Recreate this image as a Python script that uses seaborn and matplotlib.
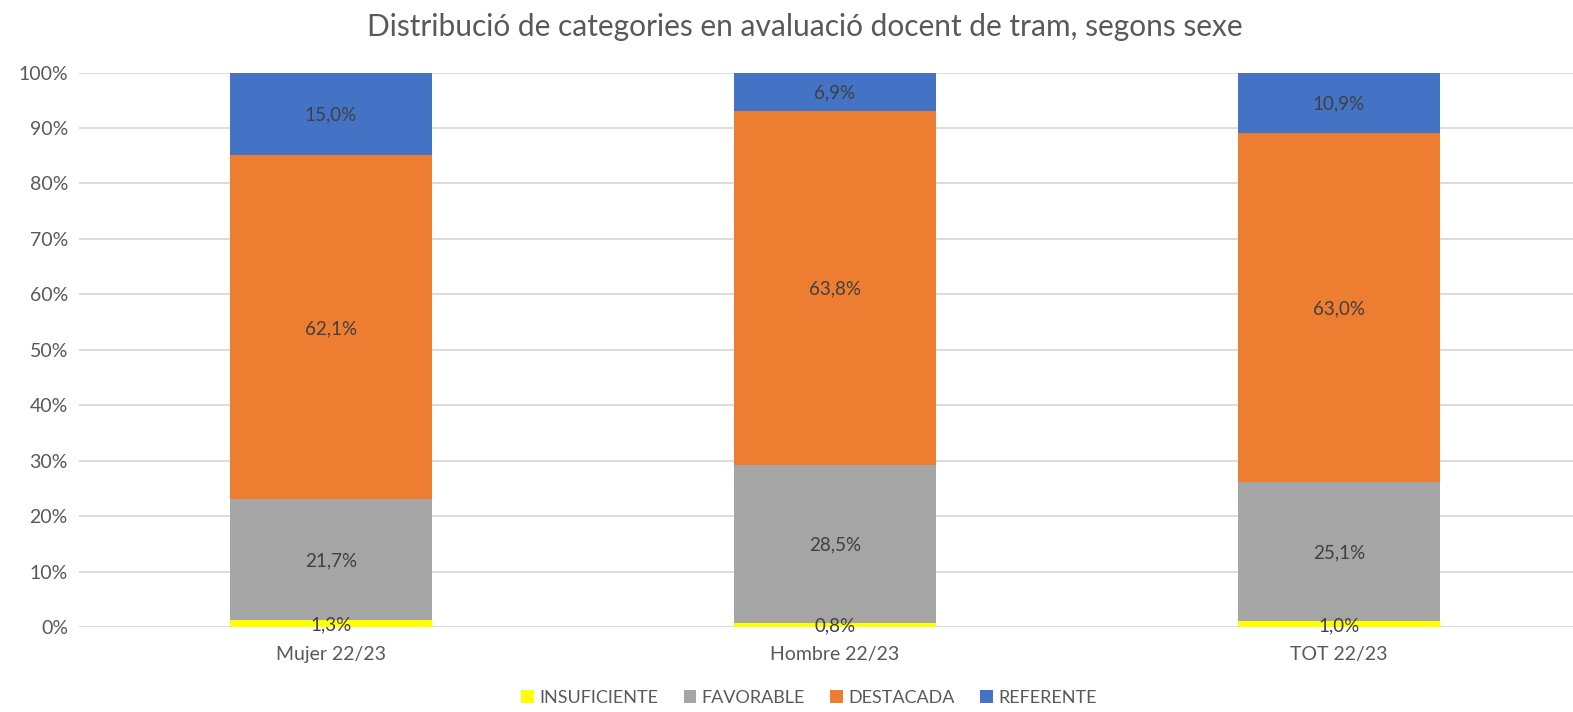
import numpy as np
import matplotlib
matplotlib.use("Agg")
import matplotlib.pyplot as plt
import seaborn as sns
from matplotlib.ticker import PercentFormatter

categories = ["Mujer 22/23", "Hombre 22/23", "TOT 22/23"]
series_names = ["INSUFICIENTE", "FAVORABLE", "DESTACADA", "REFERENTE"]
insuficiente = [1.3, 0.8, 1.0]
favorable = [21.7, 28.5, 25.1]
destacada = [62.1, 63.8, 63.0]
referente = [15.0, 6.9, 10.9]
colors = ["#FFFF00", "#A5A5A5", "#ED7D31", "#4472C4"]

sns.set_theme(style="white")
plt.rcParams['font.family'] = ['Lato', 'DejaVu Sans']

fig = plt.figure(figsize=(15.73, 7.12), dpi=100)
# axes extends a bit past the right edge, like the original
ax = fig.add_axes([79 / 1573, 1 - 627 / 712, 1512 / 1573, (627 - 72.5) / 712])

bottom = np.zeros(len(categories))
for name, vals, col in zip(series_names, [insuficiente, favorable, destacada, referente], colors):
    vals = np.array(vals)
    top = np.minimum(bottom + vals, 100.0)
    heights = top - bottom
    sns.barplot(x=categories, y=heights, bottom=bottom, color=col, width=0.4,
                ax=ax, label=name, saturation=1, linewidth=0, legend=False)
    for i, v in enumerate(vals):
        ax.text(i, bottom[i] + heights[i] / 2, f"{v:.1f}%".replace(".", ","),
                ha="center", va="center_baseline", fontsize=13.5, color="#404040")
    bottom = top

ax.set_ylim(0, 100)
ax.set_xlim(-0.5, 2.5)
ax.set_yticks(np.arange(0, 101, 10))
ax.yaxis.set_major_formatter(PercentFormatter(decimals=0))
ax.grid(axis="y", color="#D9D9D9", linewidth=1.3)
ax.set_axisbelow(True)
for s in ax.spines.values():
    s.set_visible(False)
ax.tick_params(axis="both", length=0, labelsize=14, colors="#595959", pad=8)
ax.tick_params(axis="x", pad=14)

fig.suptitle("Distribució de categories en avaluació docent de tram, segons sexe",
             x=805 / 1573, y=1 - 27 / 712, va="center", fontsize=21.5, color="#595959")

handles, labels = ax.get_legend_handles_labels()
fig.legend(handles, labels, loc="center", bbox_to_anchor=(809 / 1573, 1 - 698 / 712),
           ncol=4, frameon=False, fontsize=13, handlelength=0.7, handleheight=0.7,
           columnspacing=1.4, handletextpad=0.3, labelcolor="#595959")

fig.savefig("out.png", dpi=100)
